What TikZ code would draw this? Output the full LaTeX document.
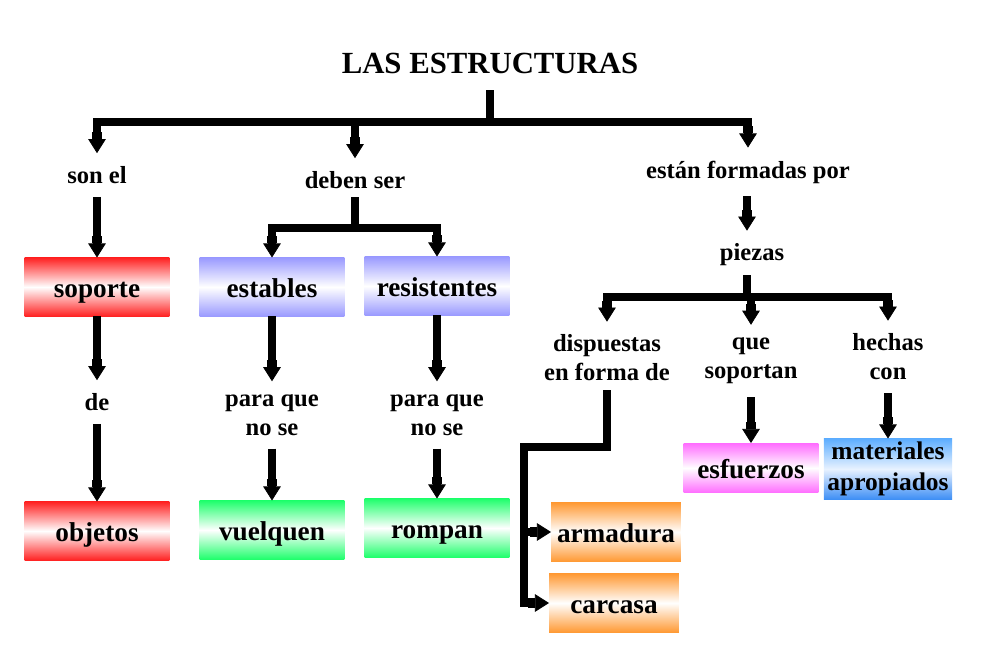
\documentclass[tikz,border=0pt]{standalone}
\usepackage{fontspec}
\setmainfont{Liberation Serif}
\usepackage{tikz}
\usetikzlibrary{arrows.meta, positioning}
\definecolor{redbox}{HTML}{FF2020}
\definecolor{lilac}{HTML}{9999FF}
\definecolor{greenbox}{HTML}{1EFF6B}
\definecolor{orangebox}{HTML}{FF9933}
\definecolor{pinkbox}{HTML}{FF6BFF}
\definecolor{bluetop}{HTML}{5CADFF}
\definecolor{bluemid}{HTML}{E8F2FF}
\definecolor{bluebot}{HTML}{3D8EF5}
\definecolor{ink}{HTML}{000000}
\newcommand\lblfont{\fontsize{14}{16.5}\selectfont\bfseries}
\newcommand\boxfont{\fontsize{15.5}{17.5}\selectfont\bfseries}
\newcommand\ttlfont{\fontsize{17.5}{20}\selectfont\bfseries}
\tikzset{
  grad/.style  ={top color=#1, bottom color=#1, middle color=white},
  box/.style   ={minimum width=2.9cm, minimum height=1.18cm, inner sep=2pt,
                 outer sep=0pt, align=center, font=\boxfont},
  box1/.style  ={box, text height=12pt, text depth=0pt},
  boxr/.style  ={box1, grad=redbox},
  boxl/.style  ={box1, grad=lilac},
  boxg/.style  ={box1, grad=greenbox},
  boxo/.style  ={box1, grad=orangebox, minimum width=2.6cm},
  boxm/.style  ={box1, grad=pinkbox, minimum width=2.7cm, minimum height=1cm},
  boxc/.style  ={box, top color=bluetop, bottom color=bluebot, middle color=bluemid,
                 minimum width=2.54cm, minimum height=1.22cm,
                 font=\fontsize{14.5}{17.5}\selectfont\bfseries},
  lbl/.style   ={font=\lblfont, align=center, inner sep=0pt, outer sep=7.5pt},
  ttl/.style   ={font=\ttlfont, inner sep=0pt, outer sep=12pt},
  bar/.style   ={line width=5pt, draw=ink, line cap=rect},
  flow/.style  ={line width=5pt, draw=ink,
                 -{Rectangle[open, length=4pt, width=5.5pt, line width=0.9pt, sep=0pt]
                   Triangle[length=8pt, width=10pt, line width=0.4pt]}}
}
\begin{document}
\begin{tikzpicture}[x=0.02cm, y=-0.02cm]
  \useasboundingbox (0,0) rectangle (988,651);

  \node[ttl] (title) at (490,63) {LAS ESTRUCTURAS};
  \coordinate (hub1) at (490,122);

  % left branch
  \node[lbl]  (sonel)   at (97,175)  {son el};
  \node[boxr] (soporte) at (97,287)  {soporte};
  \node[lbl]  (de)      at (97,402)  {de};
  \node[boxr] (objetos) at (97,531)  {objetos};

  % middle branch
  \node[lbl]  (deben)    at (355,180) {deben ser};
  \coordinate (hub2)     at (355,228);
  \node[boxl] (estables) at (272,287) {estables};
  \node[boxl] (resist)   at (437,286) {resistentes};
  \node[lbl]  (paraA)    at (272,415) {para que\\no se};
  \node[lbl]  (paraB)    at (437,415) {para que\\no se};
  \node[boxg] (vuelquen) at (272,530) {vuelquen};
  \node[boxg] (rompan)   at (437,528) {rompan};

  % right branch
  \node[lbl]  (formadas)   at (748,172) {están formadas por};
  \node[lbl]  (piezas)     at (752,255) {piezas};
  \coordinate (hub3)       at (747,297);
  \node[lbl]  (dispuestas) at (607,358) {dispuestas\\en forma de};
  \node[lbl]  (soportan)   at (751,361) {que\\soportan};
  \node[lbl]  (hechas)     at (888,357) {hechas\\con};
  \node[boxm] (esfuerzos)  at (751,468) {esfuerzos};
  \node[boxc] (materiales) at (888,469) {materiales\\apropiados};
  \coordinate (spine)      at (524,447);
  \node[boxo] (armadura)   at (616,532) {armadura};
  \node[boxo] (carcasa)    at (614,603) {carcasa};

  % connectors
  \draw[bar]  (title) -- (hub1);
  \draw[flow] (hub1) -| (sonel);
  \draw[flow] (hub1) -| (formadas);
  \draw[flow] (hub1 -| deben) -- (deben);

  \draw[flow] (sonel) -- (soporte);
  \draw[flow] (soporte) -- (de);
  \draw[flow] (de) -- (objetos);

  \draw[bar]  (deben) -- (hub2);
  \draw[flow] (hub2) -| (estables);
  \draw[flow] (hub2) -| (resist);
  \draw[flow] (estables) -- (paraA);
  \draw[flow] (resist) -- (paraB);
  \draw[flow] (paraA) -- (vuelquen);
  \draw[flow] (paraB) -- (rompan);

  \draw[flow] (hub3 |- formadas.south) -- (hub3 |- piezas.north);
  \draw[bar]  (hub3 |- piezas.south) -- (hub3);
  \draw[flow] (hub3) -| (dispuestas);
  \draw[flow] (hub3) -| (hechas);
  \draw[flow] (hub3 -| soportan) -- (soportan);
  \draw[flow] (soportan) -- (esfuerzos);
  \draw[flow] (hechas) -- (materiales);

  \draw[bar]  (dispuestas) |- (spine) -- (spine |- carcasa.west);
  \draw[flow] (spine |- armadura.west) -- (armadura.west);
  \draw[flow] (spine |- carcasa.west) -- (carcasa.west);

\end{tikzpicture}
\end{document}
